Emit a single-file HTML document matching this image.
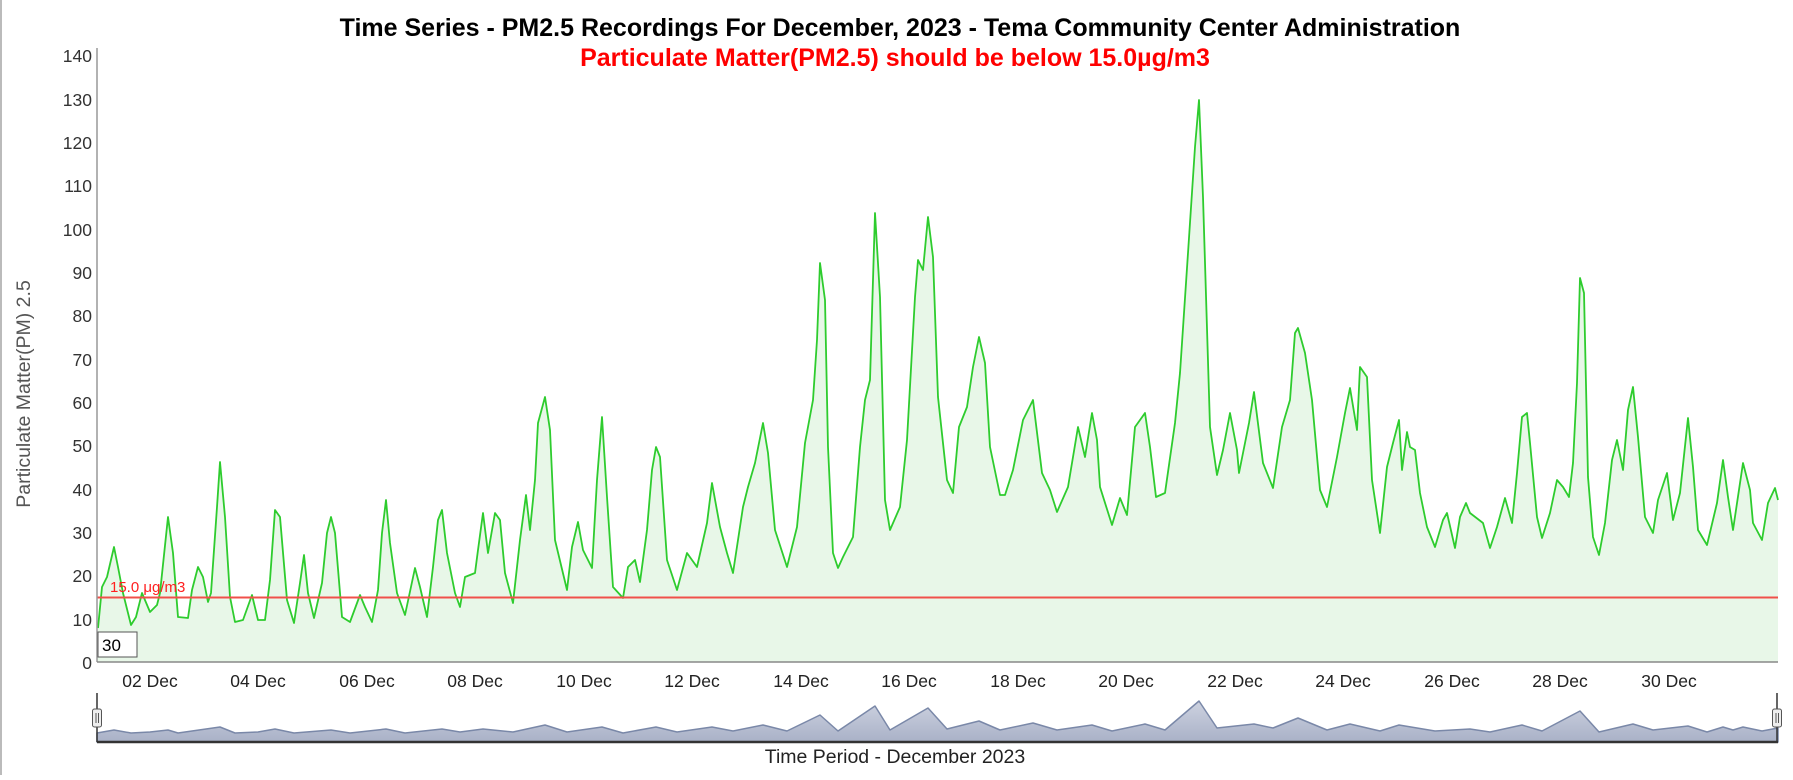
<!DOCTYPE html>
<html><head><meta charset="utf-8"><style>
html,body{margin:0;padding:0;background:#fff;}
body{width:1793px;height:775px;overflow:hidden;font-family:"Liberation Sans",Arial,sans-serif;}
</style></head><body>
<svg width="1793" height="775" viewBox="0 0 1793 775" xmlns="http://www.w3.org/2000/svg" font-family="Liberation Sans, Arial, sans-serif">
<line x1="1" y1="0" x2="1" y2="775" stroke="#bbb" stroke-width="2"/>
<text x="900" y="36" text-anchor="middle" font-size="25" font-weight="bold" fill="#000">Time Series - PM2.5 Recordings For December, 2023 - Tema Community Center Administration</text>
<text x="895" y="66" text-anchor="middle" font-size="25" font-weight="bold" fill="#ff0000">Particulate Matter(PM2.5) should be below 15.0µg/m3</text>
<text transform="translate(30,394) rotate(-90)" text-anchor="middle" font-size="19.5" fill="#555">Particulate Matter(PM) 2.5</text>
<g font-size="17.5" fill="#333" text-anchor="end">
<text x="92" y="669">0</text><text x="92" y="626">10</text><text x="92" y="582">20</text><text x="92" y="539">30</text><text x="92" y="496">40</text><text x="92" y="452">50</text><text x="92" y="409">60</text><text x="92" y="366">70</text><text x="92" y="322">80</text><text x="92" y="279">90</text><text x="92" y="236">100</text><text x="92" y="192">110</text><text x="92" y="149">120</text><text x="92" y="106">130</text><text x="92" y="62">140</text>
</g>
<polygon fill="#e8f7e8" points="97,662 98,628 102,587 107,577 114,547 118,567 123,593 131,625 136,617 142,593 150,612 157,605 160,593 168,517 173,553 178,617 188,618 192,590 198,567 203,577 208,602 211,593 217,507 220,462 225,517 230,597 235,622 243,620 252,595 258,620 265,620 270,580 275,510 280,517 287,600 294,623 300,583 304,555 308,593 314,618 322,583 327,533 331,517 335,533 342,617 350,622 360,595 365,607 372,622 378,590 382,533 386,500 390,543 397,593 405,615 415,568 420,587 427,617 433,567 438,520 442,510 447,553 455,593 460,607 465,577 475,573 478,550 483,513 488,553 495,513 500,520 505,573 513,603 520,540 526,495 530,530 535,480 538,423 545,397 550,430 555,540 567,590 572,547 578,522 583,550 592,568 597,480 602,417 607,497 613,587 623,598 628,567 635,560 640,582 647,530 652,470 656,447 660,457 667,560 677,590 687,553 697,567 707,523 712,483 720,527 727,553 733,573 743,507 748,487 755,463 763,423 768,453 775,530 787,567 797,527 805,443 813,400 817,340 820,263 825,300 828,447 833,553 838,568 843,557 853,537 860,447 865,400 870,380 875,213 880,297 885,500 890,530 900,507 907,440 915,297 918,260 923,270 928,217 933,257 938,397 947,480 953,493 959,427 967,407 973,367 979,337 985,363 990,447 1000,495 1005,495 1013,470 1023,420 1033,400 1042,473 1050,490 1057,512 1068,487 1078,427 1085,457 1092,413 1097,440 1100,487 1112,525 1120,498 1127,515 1135,427 1145,413 1150,447 1156,497 1165,493 1175,423 1180,373 1188,253 1195,147 1199,100 1203,197 1210,427 1217,475 1223,450 1230,413 1237,450 1239,473 1245,443 1249,423 1254,392 1263,463 1273,488 1282,427 1290,400 1295,333 1298,328 1305,353 1312,400 1320,490 1327,507 1337,457 1345,413 1350,388 1357,430 1360,367 1367,377 1372,480 1380,533 1387,467 1393,443 1399,420 1402,470 1407,432 1410,447 1415,450 1420,493 1427,527 1435,547 1443,520 1447,513 1455,548 1460,517 1466,503 1470,513 1483,523 1490,548 1497,527 1505,498 1512,523 1517,473 1522,417 1527,413 1530,443 1537,517 1542,538 1550,513 1557,480 1563,487 1569,497 1573,463 1577,383 1580,278 1584,293 1588,477 1593,537 1599,555 1605,523 1612,460 1617,440 1623,470 1628,410 1633,387 1638,437 1645,517 1653,533 1658,500 1667,473 1673,520 1680,493 1688,418 1693,467 1698,530 1707,545 1717,503 1723,460 1728,497 1733,530 1743,463 1750,490 1753,523 1762,540 1768,503 1775,488 1778,500 1778,662"/>
<polyline fill="none" stroke="#2ecc2e" stroke-width="1.8" stroke-linejoin="round" points="98,628 102,587 107,577 114,547 118,567 123,593 131,625 136,617 142,593 150,612 157,605 160,593 168,517 173,553 178,617 188,618 192,590 198,567 203,577 208,602 211,593 217,507 220,462 225,517 230,597 235,622 243,620 252,595 258,620 265,620 270,580 275,510 280,517 287,600 294,623 300,583 304,555 308,593 314,618 322,583 327,533 331,517 335,533 342,617 350,622 360,595 365,607 372,622 378,590 382,533 386,500 390,543 397,593 405,615 415,568 420,587 427,617 433,567 438,520 442,510 447,553 455,593 460,607 465,577 475,573 478,550 483,513 488,553 495,513 500,520 505,573 513,603 520,540 526,495 530,530 535,480 538,423 545,397 550,430 555,540 567,590 572,547 578,522 583,550 592,568 597,480 602,417 607,497 613,587 623,598 628,567 635,560 640,582 647,530 652,470 656,447 660,457 667,560 677,590 687,553 697,567 707,523 712,483 720,527 727,553 733,573 743,507 748,487 755,463 763,423 768,453 775,530 787,567 797,527 805,443 813,400 817,340 820,263 825,300 828,447 833,553 838,568 843,557 853,537 860,447 865,400 870,380 875,213 880,297 885,500 890,530 900,507 907,440 915,297 918,260 923,270 928,217 933,257 938,397 947,480 953,493 959,427 967,407 973,367 979,337 985,363 990,447 1000,495 1005,495 1013,470 1023,420 1033,400 1042,473 1050,490 1057,512 1068,487 1078,427 1085,457 1092,413 1097,440 1100,487 1112,525 1120,498 1127,515 1135,427 1145,413 1150,447 1156,497 1165,493 1175,423 1180,373 1188,253 1195,147 1199,100 1203,197 1210,427 1217,475 1223,450 1230,413 1237,450 1239,473 1245,443 1249,423 1254,392 1263,463 1273,488 1282,427 1290,400 1295,333 1298,328 1305,353 1312,400 1320,490 1327,507 1337,457 1345,413 1350,388 1357,430 1360,367 1367,377 1372,480 1380,533 1387,467 1393,443 1399,420 1402,470 1407,432 1410,447 1415,450 1420,493 1427,527 1435,547 1443,520 1447,513 1455,548 1460,517 1466,503 1470,513 1483,523 1490,548 1497,527 1505,498 1512,523 1517,473 1522,417 1527,413 1530,443 1537,517 1542,538 1550,513 1557,480 1563,487 1569,497 1573,463 1577,383 1580,278 1584,293 1588,477 1593,537 1599,555 1605,523 1612,460 1617,440 1623,470 1628,410 1633,387 1638,437 1645,517 1653,533 1658,500 1667,473 1673,520 1680,493 1688,418 1693,467 1698,530 1707,545 1717,503 1723,460 1728,497 1733,530 1743,463 1750,490 1753,523 1762,540 1768,503 1775,488 1778,500"/>
<line x1="97" y1="597.5" x2="1778" y2="597.5" stroke="#f0504a" stroke-width="2"/>
<text x="110" y="592" font-size="15" fill="#ff2020">15.0 μg/m3</text>
<line x1="97" y1="48" x2="97" y2="662" stroke="#999" stroke-width="1.5"/>
<line x1="97" y1="662" x2="1778" y2="662" stroke="#888" stroke-width="1.5"/>
<rect x="98" y="632" width="39" height="25" fill="#fff" stroke="#555" stroke-width="1"/>
<text x="102" y="651" font-size="17" fill="#000">30</text>
<g font-size="17.5" fill="#222" text-anchor="middle">
<text x="150" y="687">02 Dec</text><text x="258" y="687">04 Dec</text><text x="367" y="687">06 Dec</text><text x="475" y="687">08 Dec</text><text x="584" y="687">10 Dec</text><text x="692" y="687">12 Dec</text><text x="801" y="687">14 Dec</text><text x="909" y="687">16 Dec</text><text x="1018" y="687">18 Dec</text><text x="1126" y="687">20 Dec</text><text x="1235" y="687">22 Dec</text><text x="1343" y="687">24 Dec</text><text x="1452" y="687">26 Dec</text><text x="1560" y="687">28 Dec</text><text x="1669" y="687">30 Dec</text>
</g>
<defs><linearGradient id="ng" x1="0" y1="0" x2="0" y2="1"><stop offset="0" stop-color="#cdd2e0"/><stop offset="1" stop-color="#a9b1c7"/></linearGradient></defs>
<polygon fill="url(#ng)" stroke="#7a88a8" stroke-width="1.5" stroke-linejoin="round" points="97,742 97,733 114,730 131,733 150,732 168,730 178,733 192,731 220,727 235,733 258,732 275,729 294,733 331,730 350,733 386,729 405,733 442,729 460,732 483,729 513,732 545,725 567,732 602,727 623,733 656,727 677,732 712,727 733,731 763,725 787,731 820,715 838,731 875,706 890,730 928,708 947,729 979,721 1000,730 1033,723 1057,730 1092,725 1112,731 1145,724 1165,730 1199,701 1217,728 1254,724 1273,728 1298,718 1327,730 1350,724 1380,731 1399,725 1435,731 1470,729 1490,732 1522,725 1542,731 1580,711 1599,732 1633,724 1653,730 1688,726 1707,732 1723,727 1733,730 1743,727 1762,731 1778,728 1778,742"/>
<line x1="97" y1="742" x2="1778" y2="742" stroke="#333" stroke-width="2.5"/>
<line x1="97" y1="693" x2="97" y2="742" stroke="#333" stroke-width="1.5"/>
<line x1="1777" y1="693" x2="1777" y2="742" stroke="#333" stroke-width="1.5"/>
<rect x="92.5" y="709" width="9" height="18" rx="2" fill="#eee" stroke="#555" stroke-width="1"/>
<line x1="96" y1="713" x2="96" y2="723" stroke="#555"/><line x1="98.5" y1="713" x2="98.5" y2="723" stroke="#555"/>
<rect x="1772.5" y="709" width="9" height="18" rx="2" fill="#eee" stroke="#555" stroke-width="1"/>
<line x1="1776" y1="713" x2="1776" y2="723" stroke="#555"/><line x1="1778.5" y1="713" x2="1778.5" y2="723" stroke="#555"/>
<text x="895" y="763" text-anchor="middle" font-size="19.5" fill="#222">Time Period - December 2023</text>
</svg>
</body></html>
